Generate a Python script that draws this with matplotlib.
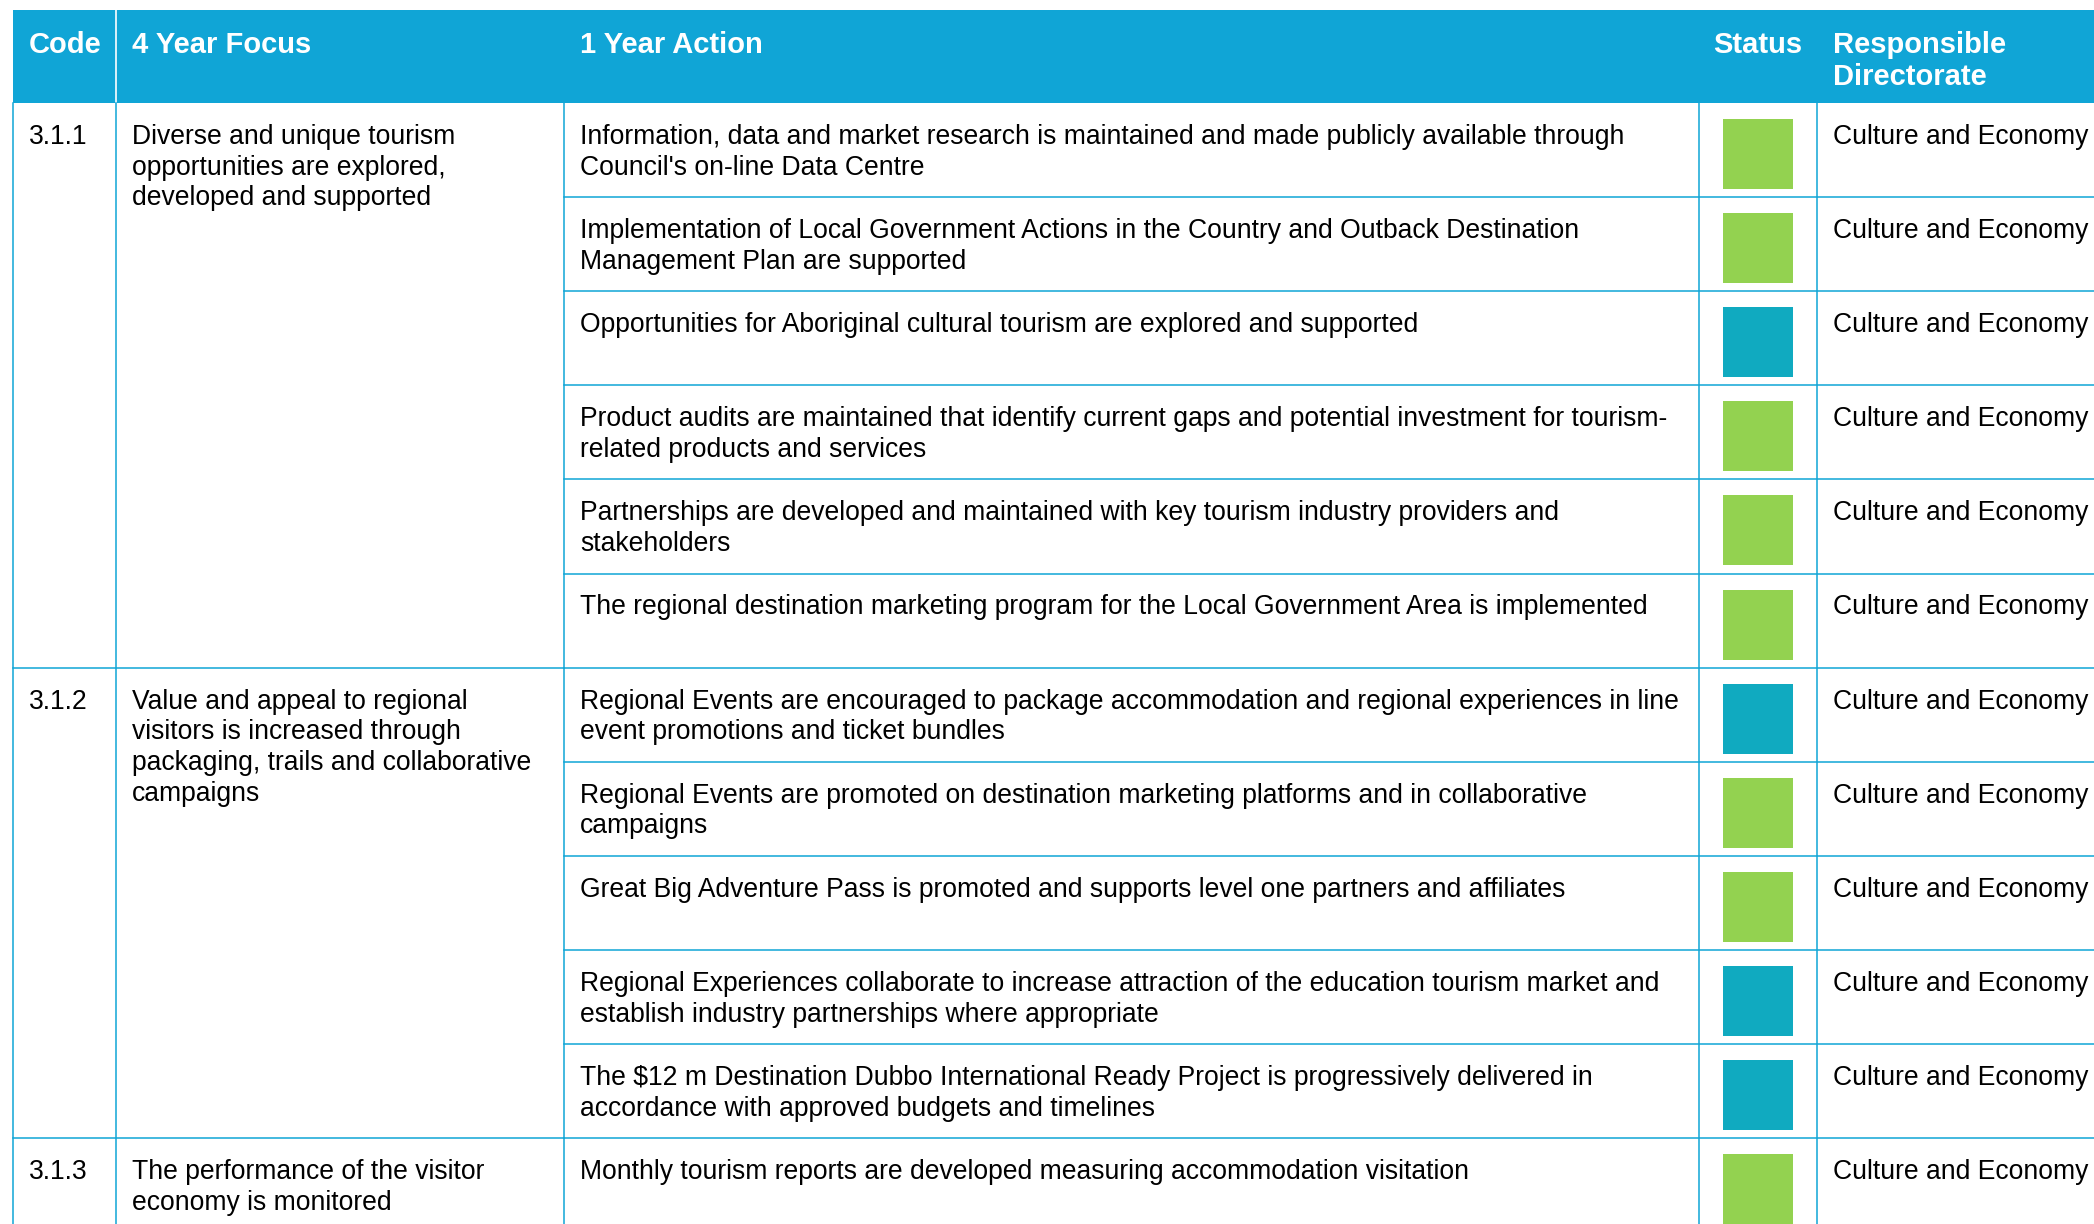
import matplotlib.pyplot as plt
from matplotlib.patches import Rectangle

plt.rcParams["font.family"] = ["Liberation Sans", "DejaVu Sans"]

# table content
headers = ["Code", "4 Year Focus", "1 Year Action", "Status", "Responsible\nDirectorate"]
codes = ["3.1.1", "3.1.2", "3.1.3"]
focus = [
    "Diverse and unique tourism\nopportunities are explored,\ndeveloped and supported",
    "Value and appeal to regional\nvisitors is increased through\npackaging, trails and collaborative\ncampaigns",
    "The performance of the visitor\neconomy is monitored",
]
group_rows = [6, 5, 1]
actions = [
    "Information, data and market research is maintained and made publicly available through\nCouncil's on-line Data Centre",
    "Implementation of Local Government Actions in the Country and Outback Destination\nManagement Plan are supported",
    "Opportunities for Aboriginal cultural tourism are explored and supported",
    "Product audits are maintained that identify current gaps and potential investment for tourism-\nrelated products and services",
    "Partnerships are developed and maintained with key tourism industry providers and\nstakeholders",
    "The regional destination marketing program for the Local Government Area is implemented",
    "Regional Events are encouraged to package accommodation and regional experiences in line\nevent promotions and ticket bundles",
    "Regional Events are promoted on destination marketing platforms and in collaborative\ncampaigns",
    "Great Big Adventure Pass is promoted and supports level one partners and affiliates",
    "Regional Experiences collaborate to increase attraction of the education tourism market and\nestablish industry partnerships where appropriate",
    "The $12 m Destination Dubbo International Ready Project is progressively delivered in\naccordance with approved budgets and timelines",
    "Monthly tourism reports are developed measuring accommodation visitation",
]
status = ["on track", "on track", "progress", "on track", "on track", "on track",
          "progress", "on track", "on track", "progress", "progress", "on track"]
directorate = ["Culture and Economy"] * len(actions)

status_colors = {"on track": "#93D250", "progress": "#10AAC0"}
blue = "#10A5D6"

# layout (pixels)
W, H = 2094, 1224
col_x = [13, 116, 564, 1699, 1817, W]
head_top, head_bot = 10, 103
row_h = 94.1
pad = 16
base_off = 41
line_gap = 30.7
fs = 19.1
hfs = 21

fig = plt.figure(figsize=(W / 100, H / 100), dpi=100)
ax = fig.add_axes([0, 0, 1, 1])
ax.set_xlim(0, W)
ax.set_ylim(H, 0)
ax.axis("off")


def put_lines(x, top, text, **kw):
    for i, line in enumerate(text.split("\n")):
        ax.text(x, top + base_off + i * line_gap, line, va="baseline",
                fontsize=fs, **kw)


# header
ax.add_patch(Rectangle((col_x[0], head_top), W - col_x[0], head_bot - head_top,
                       color=blue, lw=0))
ax.plot([col_x[1], col_x[1]], [head_top, head_bot], color="white", lw=1.2)
for j, h in enumerate(headers):
    if h == "Status":
        ax.text((col_x[3] + col_x[4]) / 2, 53, h, ha="center", va="baseline",
                fontsize=hfs, color="white", weight="bold")
    else:
        for i, line in enumerate(h.split("\n")):
            ax.text(col_x[j] + pad, 53 + i * 32, line, va="baseline",
                    fontsize=hfs, color="white", weight="bold")

lc = blue
lw = 1.1

# rows
for r, (act, st, di) in enumerate(zip(actions, status, directorate)):
    top = head_bot + r * row_h
    put_lines(col_x[2] + pad, top, act, color="black")
    put_lines(col_x[4] + pad, top, di, color="black")
    ax.add_patch(Rectangle((1723, top + 16), 70, 70, color=status_colors[st], lw=0))
    if r > 0:
        ax.plot([col_x[2], W], [top, top], color=lc, lw=lw)

# groups
start = 0
for code, foc, n in zip(codes, focus, group_rows):
    top = head_bot + start * row_h
    put_lines(col_x[0] + pad, top, code, color="black")
    put_lines(col_x[1] + pad, top, foc, color="black")
    if start > 0:
        ax.plot([col_x[0], col_x[2]], [top, top], color=lc, lw=lw)
    start += n

for x in col_x[:-1]:
    ax.plot([x, x], [head_bot, H], color=lc, lw=lw)

fig.savefig("out.png", dpi=100)
